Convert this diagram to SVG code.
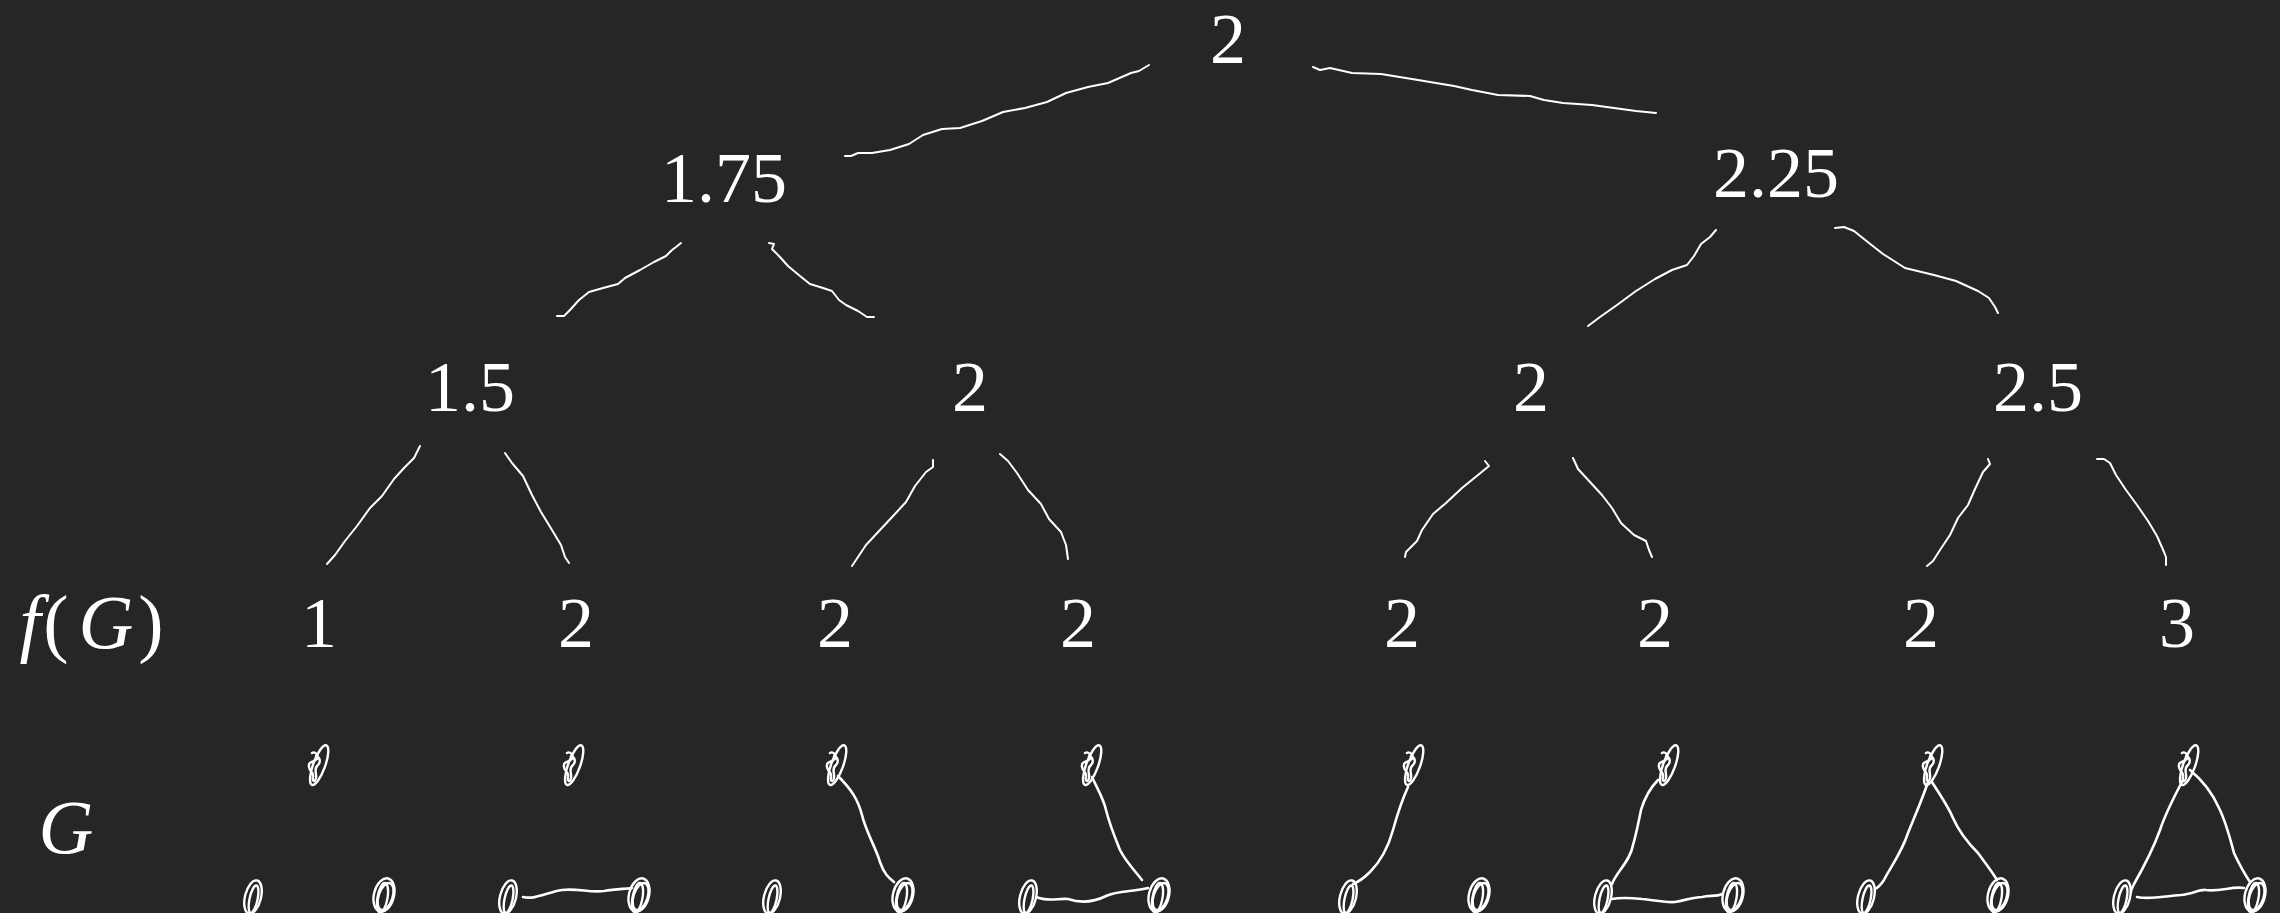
<svg xmlns="http://www.w3.org/2000/svg" xmlns:xlink="http://www.w3.org/1999/xlink" width="2280" height="913" viewBox="0 0 2280 913">
<style>
.t{font-family:"Liberation Serif","Times New Roman",serif;font-size:72px;fill:#ffffff;text-anchor:middle}
.i{font-style:italic}
.e{fill:none;stroke:#ffffff;stroke-width:2;stroke-linecap:round;stroke-linejoin:round}
.g{fill:none;stroke:#ffffff;stroke-width:2.6;stroke-linecap:round;stroke-linejoin:round}
.n{fill:none;stroke:#ffffff;stroke-width:2.4;stroke-linecap:round;stroke-linejoin:round}
</style>
<defs>
<g id="vt">
<ellipse cx="3" cy="-1" rx="6" ry="21" transform="rotate(20)" class="n"/>
<path class="n" d="M-4,-12 C-1,-14 3,-10 1,-6 C-3,-2 -8,-4 -7,2 C-6,8 -2,6 -3,12 C-4,16 -1,18 0,13 C1,8 -3,4 2,0 C5,-3 4,-8 0,-9"/>
</g>
<g id="vb">
<ellipse cx="0" cy="0" rx="10" ry="17" transform="rotate(14)" class="n"/>
<ellipse cx="-1" cy="3" rx="5" ry="15" transform="rotate(10)" class="n"/>
<ellipse cx="2" cy="1" rx="7" ry="14" transform="rotate(18)" class="n"/>
</g>
<g id="vb1">
<ellipse cx="0" cy="0" rx="8" ry="17" transform="rotate(14)" class="n"/>
<ellipse cx="1" cy="2" rx="4" ry="14" transform="rotate(12)" class="n"/>
</g>
</defs>
<rect width="2280" height="913" fill="#262626"/>

<g id="connectors">
<path class="e" d="M1149,65 L1139,71 L1131,73 L1108,83 L1088,87 L1066,93 L1047,102 L1025,108 L1003,112 L982,121 L960,128 L942,129 L923,135 L909,144 L890,150 L872,153 L858,153 L851,156 L845,156"/>
<path class="e" d="M1313,67 L1320,70 L1330,68 L1352,73 L1381,74 L1418,80 L1454,86 L1472,90 L1498,95 L1530,96 L1544,100 L1563,103 L1592,105 L1614,108 L1636,111 L1656,113"/>
<path class="e" d="M681,243 L676,247 L672,250 L666,256 L654,262 L640,270 L625,278 L618,284 L603,288 L589,292 L579,300 L570,310 L564,316 L557,316"/>
<path class="e" d="M769,243 L774,244 L772,249 L779,256 L788,266 L800,276 L810,284 L823,288 L832,291 L839,300 L846,305 L858,311 L867,317 L874,317"/>
<path class="e" d="M1716,230 L1710,237 L1701,244 L1694,256 L1687,265 L1672,270 L1655,279 L1636,291 L1617,305 L1600,317 L1588,326"/>
<path class="e" d="M1835,228 L1844,227 L1854,231 L1869,243 L1883,254 L1905,268 L1934,275 L1956,281 L1978,291 L1989,298 L1995,307 L1998,313"/>
<path class="e" d="M420,446 L414,458 L404,468 L394,479 L382,496 L370,508 L357,526 L345,541 L335,555 L327,564"/>
<path class="e" d="M505,453 L512,463 L523,476 L532,495 L541,512 L552,530 L561,545 L565,557 L569,563"/>
<path class="e" d="M933,460 L933,467 L926,472 L915,486 L906,502 L894,515 L880,530 L866,545 L852,566"/>
<path class="e" d="M1000,454 L1008,461 L1017,473 L1028,490 L1041,504 L1049,519 L1061,532 L1066,545 L1068,559"/>
<path class="e" d="M1485,461 L1489,466 L1478,475 L1462,488 L1446,503 L1433,514 L1422,530 L1417,541 L1406,552 L1405,557"/>
<path class="e" d="M1573,458 L1578,469 L1590,482 L1602,495 L1612,508 L1621,523 L1634,535 L1646,541 L1649,550 L1652,557"/>
<path class="e" d="M1988,459 L1990,464 L1983,472 L1975,489 L1968,505 L1958,518 L1950,535 L1940,550 L1933,561 L1927,566"/>
<path class="e" d="M2097,459 L2104,459 L2110,463 L2116,475 L2126,490 L2137,505 L2148,521 L2157,536 L2164,552 L2166,557 L2166,565"/>

<path class="g" d="M523,897 C535,900 548,892 562,890 C578,888 590,893 604,891 C615,889 624,889 632,888"/>
<path class="g" d="M838,776 C852,790 858,800 862,815 C866,832 876,848 880,862 C884,874 889,878 894,882"/>
<path class="g" d="M1092,777 C1098,790 1104,800 1106,810 C1110,826 1116,840 1120,850 C1126,862 1136,872 1142,880"/>
<path class="g" d="M1036,897 C1048,902 1058,898 1068,899 C1080,903 1092,903 1106,896 C1118,890 1134,892 1148,888"/>
<path class="g" d="M1408,787 C1402,800 1398,812 1393,830 C1388,848 1380,862 1370,872 C1364,878 1358,882 1353,884"/>
<path class="g" d="M1658,780 C1648,790 1644,800 1641,810 C1638,825 1636,835 1633,845 C1630,862 1616,872 1612,884"/>
<path class="g" d="M1612,899 C1622,897 1632,898 1642,899 C1656,900 1665,903 1675,902 C1686,900 1694,897 1702,897 C1710,895 1716,897 1722,894"/>
<path class="g" d="M1928,782 C1922,800 1914,818 1908,833 C1902,852 1890,868 1884,880 C1880,886 1877,888 1875,889"/>
<path class="g" d="M1932,782 C1940,795 1948,806 1953,818 C1960,834 1970,845 1978,853 C1986,864 1993,873 1997,880"/>
<path class="g" d="M2183,780 C2175,795 2166,812 2160,830 C2152,852 2142,870 2134,884 C2132,888 2131,890 2131,892"/>
<path class="g" d="M2190,770 C2202,780 2212,792 2219,808 C2226,822 2230,838 2234,853 C2240,866 2246,876 2250,882"/>
<path class="g" d="M2137,897 C2150,900 2165,896 2181,895 C2192,894 2200,889 2206,890 C2220,892 2232,886 2244,888"/>
</g>

<g id="n-root"><text class="t" x="1228" y="63">2</text></g>
<g id="n-l1a"><text class="t" x="724" y="202">1.75</text></g>
<g id="n-l1b"><text class="t" x="1776" y="197">2.25</text></g>
<g id="n-l2a"><text class="t" x="470" y="411">1.5</text></g>
<g id="n-l2b"><text class="t" x="970" y="411">2</text></g>
<g id="n-l2c"><text class="t" x="1531" y="411">2</text></g>
<g id="n-l2d"><text class="t" x="2038" y="411">2.5</text></g>

<g id="label-fG"><text class="t" y="648" style="font-size:76px"><tspan class="i" x="30">f</tspan><tspan x="56">(</tspan><tspan class="i" x="106">G</tspan><tspan x="151">)</tspan></text></g>
<g id="n-l3a"><text class="t" x="319" y="647">1</text></g>
<g id="n-l3b"><text class="t" x="576" y="647">2</text></g>
<g id="n-l3c"><text class="t" x="835" y="647">2</text></g>
<g id="n-l3d"><text class="t" x="1078" y="647">2</text></g>
<g id="n-l3e"><text class="t" x="1402" y="647">2</text></g>
<g id="n-l3f"><text class="t" x="1655" y="647">2</text></g>
<g id="n-l3g"><text class="t" x="1921" y="647">2</text></g>
<g id="n-l3h"><text class="t" x="2177" y="647">3</text></g>

<g id="label-G"><text class="t i" x="66" y="853" style="font-size:76px">G</text></g>

<g id="graph1"><use xlink:href="#vt" x="316" y="765"/><use xlink:href="#vb1" x="253" y="897"/><use xlink:href="#vb" x="384" y="895"/></g>
<g id="graph2"><use xlink:href="#vt" x="571" y="765"/><use xlink:href="#vb1" x="508" y="897"/><use xlink:href="#vb" x="639" y="895"/></g>
<g id="graph3"><use xlink:href="#vt" x="834" y="765"/><use xlink:href="#vb1" x="772" y="897"/><use xlink:href="#vb" x="903" y="895"/></g>
<g id="graph4"><use xlink:href="#vt" x="1089" y="765"/><use xlink:href="#vb1" x="1028" y="897"/><use xlink:href="#vb" x="1159" y="895"/></g>
<g id="graph5"><use xlink:href="#vt" x="1411" y="765"/><use xlink:href="#vb1" x="1348" y="897"/><use xlink:href="#vb" x="1479" y="895"/></g>
<g id="graph6"><use xlink:href="#vt" x="1666" y="765"/><use xlink:href="#vb1" x="1603" y="897"/><use xlink:href="#vb" x="1733" y="895"/></g>
<g id="graph7"><use xlink:href="#vt" x="1930" y="765"/><use xlink:href="#vb1" x="1866" y="897"/><use xlink:href="#vb" x="1998" y="895"/></g>
<g id="graph8"><use xlink:href="#vt" x="2186" y="765"/><use xlink:href="#vb1" x="2122" y="897"/><use xlink:href="#vb" x="2255" y="895"/></g>
</svg>
